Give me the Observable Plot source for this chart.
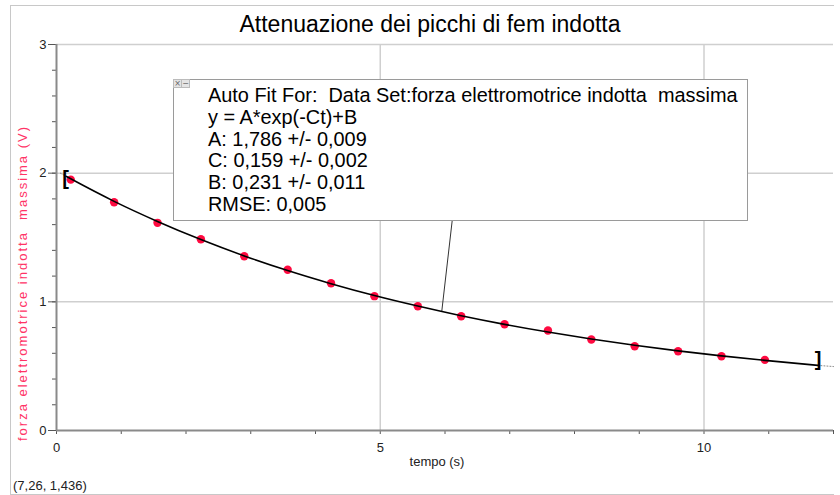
<!DOCTYPE html>
<html>
<head>
<meta charset="utf-8">
<script src="https://cdn.jsdelivr.net/npm/d3@7"></script>
<script src="https://cdn.jsdelivr.net/npm/@observablehq/plot@0.6"></script>
<style>
  html, body { margin: 0; padding: 0; background: #fff; }
  #wrap { position: relative; width: 840px; height: 495px; font-family: "Liberation Sans", Arial, sans-serif; overflow: hidden; }
  #wrap svg { position: absolute; left: 0; top: 0; }
  .ov { position: absolute; white-space: pre; color: #000; }
</style>
</head>
<body>
<div id="wrap"></div>
<script>
// ---- data ----
const tempo = [0.22, 0.89, 1.56, 2.23, 2.90, 3.57, 4.24, 4.91, 5.58, 6.25, 6.92, 7.59, 8.26, 8.93, 9.60, 10.27, 10.94];
const fem   = [1.950, 1.774, 1.614, 1.486, 1.354, 1.249, 1.145, 1.044, 0.966, 0.888, 0.826, 0.777, 0.707, 0.655, 0.616, 0.577, 0.549];

// fitted curve y = A*exp(-Ct)+B as drawn
const fitT = [0.15, 0.22, 0.89, 1.56, 2.23, 2.90, 3.57, 4.24, 4.91, 5.58, 6.25, 6.92, 7.59, 8.26, 8.93, 9.60, 10.27, 10.94, 11.76];
const fitV = [1.975, 1.956, 1.781, 1.625, 1.484, 1.357, 1.243, 1.141, 1.049, 0.967, 0.892, 0.825, 0.765, 0.711, 0.663, 0.619, 0.580, 0.545, 0.506];

// dotted extension of the fit outside the selected range
const extT = [0.06, 0.15, 11.76, 12.0];
const extV = [2.000, 1.975, 0.506, 0.497];
const extSeg = ["left", "left", "right", "right"];

// selection brackets
const bracketT = [0.14, 11.76];
const bracketV = [1.954, 0.551];
const bracketChar = ["[", "]"];

// leader line from the curve to the fit box
const leaderT = [5.95, 6.11];
const leaderV = [0.925, 1.626];

// axis ticks
const xTicks = [0,1,2,3,4,5,6,7,8,9,10,11,12];
const xLabels = [0, 5, 10];
const yMinor = [0,0.2,0.4,0.6,0.8,1,1.2,1.4,1.6,1.8,2,2.2,2.4,2.6,2.8,3];
const yLabels = [0, 1, 2, 3];
const xGrid = [5, 10];
const yGrid = [1, 2, 3];

// texts
const title = "Attenuazione dei picchi di fem indotta";
const xLabel = "tempo (s)";
const yLabel = "forza elettromotrice indotta  massima (V)";
const fitLines = [
  "Auto Fit For:  Data Set:forza elettromotrice indotta  massima",
  "y = A*exp(-Ct)+B",
  "A: 1,786 +/- 0,009",
  "C: 0,159 +/- 0,002",
  "B: 0,231 +/- 0,011",
  "RMSE: 0,005"
];
const cursorText = "(7,26, 1,436)";

const pts = tempo.map((t, i) => ({t, v: fem[i]}));
const fit = fitT.map((t, i) => ({t, v: fitV[i]}));
const ext = extT.map((t, i) => ({t, v: extV[i], s: extSeg[i]}));
const brk = bracketT.map((t, i) => ({t, v: bracketV[i], c: bracketChar[i]}));
const lead = leaderT.map((t, i) => ({t, v: leaderV[i]}));

const chart = Plot.plot({
  width: 840,
  height: 495,
  marginLeft: 56,
  marginRight: 7,
  marginTop: 44,
  marginBottom: 65,
  x: {domain: [0, 12]},
  y: {domain: [0, 3]},
  style: {fontFamily: "'Liberation Sans', Arial, sans-serif", color: "#333", background: "transparent"},
  marks: [
    Plot.gridX(xGrid, {stroke: "#cfcfcf", strokeOpacity: 1, strokeWidth: 1.5}),
    Plot.gridY(yGrid, {stroke: "#cfcfcf", strokeOpacity: 1, strokeWidth: 1.5}),
    Plot.axisY(yMinor, {tickSize: 4, tickFormat: () => "", label: null, stroke: "#555"}),
    Plot.axisY(yLabels, {tickSize: 8, tickPadding: 2, fontSize: 13, label: null, stroke: "#555", fill: "#222",
      tickFormat: d => String(d)}),
    Plot.axisX(xTicks, {tickSize: 4, tickPadding: 8, fontSize: 13, label: null, stroke: "#555", fill: "#222",
      tickFormat: d => xLabels.includes(d) ? String(d) : ""}),
    Plot.ruleY([0], {stroke: "#8a8a8a", strokeWidth: 2}),
    Plot.ruleX([0], {stroke: "#8a8a8a", strokeWidth: 2}),
    Plot.line(lead, {x: "t", y: "v", stroke: "#333", strokeWidth: 1}),
    Plot.dot(pts, {x: "t", y: "v", r: 4.2, fill: "#ff0a40", stroke: "none"}),
    Plot.line(ext, {x: "t", y: "v", z: "s", stroke: "#888", strokeWidth: 1, strokeDasharray: "1,2"}),
    Plot.line(fit, {x: "t", y: "v", stroke: "#000", strokeWidth: 1.6, curve: "monotone-x"}),
    Plot.text(brk, {x: "t", y: "v", text: "c", fontSize: 20, fontWeight: "bold", fill: "#000",
      textAnchor: d => d.c === "[" ? "start" : "end", dx: 0, lineAnchor: "middle"})
  ]
});

const wrap = document.getElementById("wrap");
wrap.appendChild(chart);

function ov(text, css) {
  const d = document.createElement("div");
  d.className = "ov";
  d.textContent = text;
  Object.assign(d.style, css);
  wrap.appendChild(d);
  return d;
}

// outer frame
const frame = document.createElement("div");
Object.assign(frame.style, {position: "absolute", left: "10px", top: "5px", width: "823px", height: "488px",
  borderLeft: "1px solid #c8c8c8", borderTop: "1px solid #c8c8c8", borderBottom: "1px solid #c8c8c8"});
wrap.appendChild(frame);

// title
ov(title, {left: "0px", width: "860px", textAlign: "center", top: "11px", fontSize: "23px", lineHeight: "26px"});

// x label
ov(xLabel, {left: "337px", width: "200px", textAlign: "center", top: "454px", fontSize: "13px", lineHeight: "16px", color: "#222"});

// y label (rotated)
ov(yLabel, {left: "23px", top: "283px", fontSize: "13px", lineHeight: "14px", color: "#ff3366",
  transform: "translate(-50%, -50%) rotate(-90deg)", letterSpacing: "2px"});

// cursor readout
ov(cursorText, {left: "13px", top: "478px", fontSize: "13px", lineHeight: "16px", color: "#222"});

// fit box
const box = document.createElement("div");
Object.assign(box.style, {position: "absolute", left: "173px", top: "79px", width: "573px", height: "140px",
  border: "1px solid #9a9a9a", background: "#fff", boxSizing: "content-box"});
wrap.appendChild(box);
fitLines.forEach((s, i) => {
  ov(s, {left: "208px", top: (84 + i * 21.8) + "px", fontSize: "19.9px", lineHeight: "22px"});
});
// small close / minimise icons
const icons = [["×", 173], ["−", 181]];
icons.forEach(([c, x]) => {
  const d = document.createElement("div");
  Object.assign(d.style, {position: "absolute", left: x + "px", top: "79px", width: "7px", height: "7px",
    border: "1px solid #bbb", background: "#e4e4e4", fontSize: "8px", lineHeight: "7px", textAlign: "center",
    color: "#666", fontFamily: "'DejaVu Sans', sans-serif"});
  d.textContent = c;
  wrap.appendChild(d);
});
</script>
</body>
</html>
